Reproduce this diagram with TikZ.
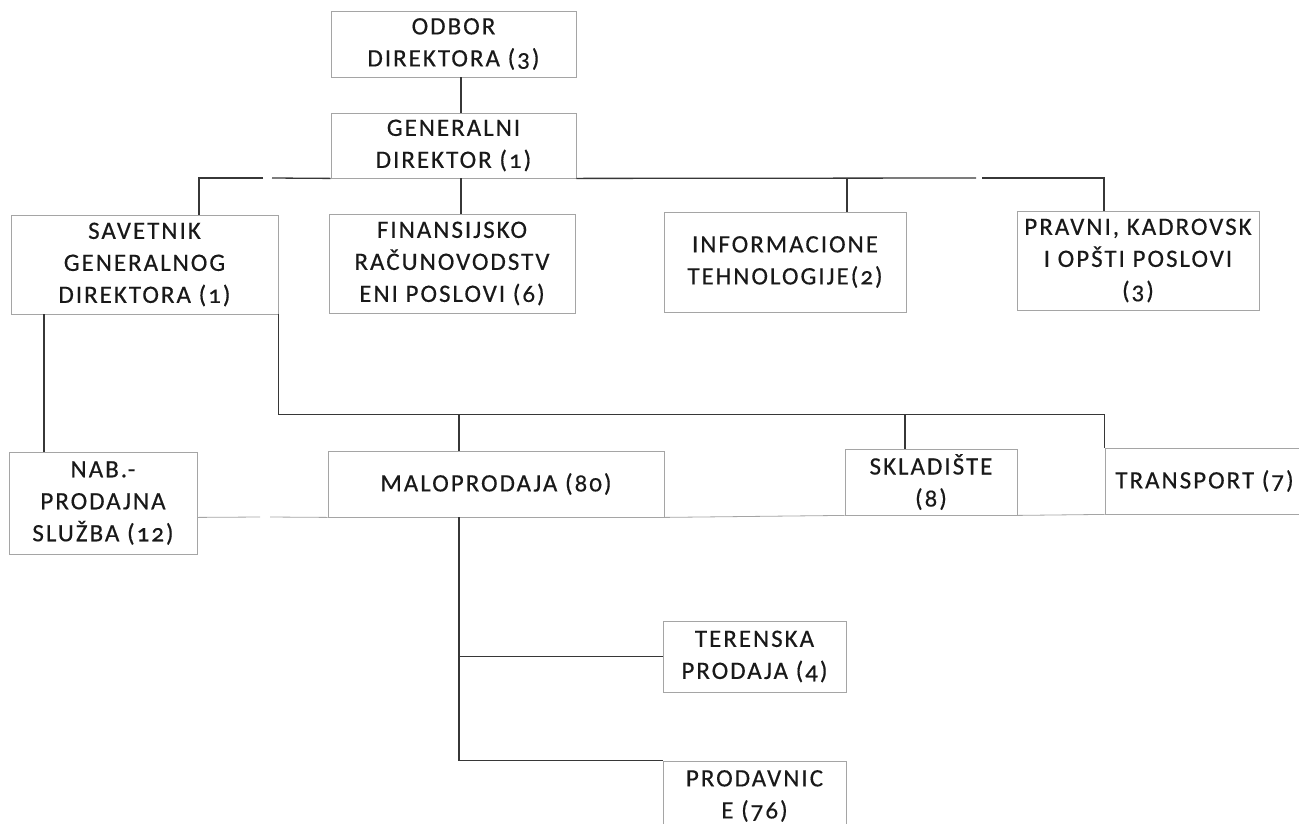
\documentclass[tikz,border=0pt]{standalone}
\usepackage{fontspec}
\setmainfont{Carlito}[Numbers=OldStyle, LetterSpace=8, FakeBold=0.4]
\usetikzlibrary{calc}
\definecolor{boxc}{RGB}{165,165,165}
\definecolor{linec}{RGB}{55,55,55}
\definecolor{txtc}{RGB}{25,25,25}
\begin{document}
\begin{tikzpicture}[x=1pt,y=-1pt,
  box/.style={draw=boxc, line width=0.8pt, inner sep=0pt, align=center, text=txtc,
    font=\fontsize{25}{32}\selectfont},
  conn/.style={draw=linec, line width=1.3pt},
  thinline/.style={draw=boxc, line width=0.8pt}]
\fill[white] (0,0) rectangle (1299,823);
\useasboundingbox (0,0) rectangle (1299,823);

% boxes
\node[box, minimum width=245pt, minimum height=66pt] (odbor) at (453.5,44) {ODBOR\\DIREKTORA (3)};
\node[box, minimum width=245pt, minimum height=65pt] (gen) at (453.5,145.5) {GENERALNI\\DIREKTOR (1)};
\node[box, minimum width=267pt, minimum height=99pt] (sav) at (144.5,264.5) {SAVETNIK\\GENERALNOG\\DIREKTORA (1)};
\node[box, minimum width=246pt, minimum height=99pt] (fin) at (452,263.5) {FINANSIJSKO\\RAČUNOVODSTV\\ENI POSLOVI (6)};
\node[box, minimum width=242pt, minimum height=100pt] (info) at (785,262) {INFORMACIONE\\TEHNOLOGIJE(2)};
\node[box, minimum width=242pt, minimum height=99pt] (prav) at (1138,260.5) {PRAVNI, KADROVSK\\I OPŠTI POSLOVI\\(3)};
\node[box, minimum width=188pt, minimum height=102pt] (nab) at (103,503) {NAB.-\\PRODAJNA\\SLUŽBA (12)};
\node[box, minimum width=336pt, minimum height=66pt] (malo) at (496,484) {MALOPRODAJA (80)};
\node[box, minimum width=172pt, minimum height=66pt] (skl) at (931,482) {SKLADIŠTE\\(8)};
\node[box, minimum width=199pt, minimum height=66pt] (trans) at (1204.5,481) {TRANSPORT (7)};
\node[box, minimum width=183pt, minimum height=71pt] (ter) at (754.5,656.5) {TERENSKA\\PRODAJA (4)};
\node[box, minimum width=183pt, minimum height=70pt] (prod) at (754.5,796) {PRODAVNIC\\E (76)};

% top level
\draw[conn] ([xshift=7.5pt]odbor.south) -- ([xshift=7.5pt]gen.north);
\coordinate (gapLa) at (272,178);
\coordinate (gapLb) at (263,178);
\coordinate (gapRa) at (976,178);
\coordinate (gapRb) at (982,178);
\draw[conn] (gen.south west) -- (gapLa);
\draw[conn] (gapLb) -| ([xshift=54.5pt]sav.north);
\draw[conn] (gen.south east) -- (gapRa);
\draw[conn] (gapRb) -| ([xshift=-34pt]prav.north);
\draw[conn] ([xshift=9pt]fin.north) -- ([xshift=9pt]fin.north |- gen.south);
\draw[conn] ([xshift=62pt]info.north) -- ([xshift=62pt]info.north |- gen.south);

% second level
\draw[conn] ([xshift=-100.5pt]sav.south) -- ([xshift=-59pt]nab.north);
\draw[conn] (sav.south east) -- ++(0,100) -| (trans.north west);
\draw[conn] ([xshift=-37pt]malo.north) -- ++(0,-37);
\draw[conn] ([xshift=-26pt]skl.north) -- ++(0,-35);

% bottom grey line
\coordinate (gapBa) at (260,517);
\coordinate (gapBb) at (270,517);
\draw[thinline] (nab.east |- malo.south) -- (gapBa);
\draw[thinline] (gapBb) -- (malo.south west);
\draw[thinline] (malo.south east) -- (skl.south west);
\draw[thinline] (skl.south east) -- (trans.south west);

% third level
\coordinate (mdrop) at ([xshift=-37pt]malo.south);
\draw[conn] (mdrop) -- (mdrop |- prod.north) -- (prod.north west);
\draw[conn] (ter.west -| mdrop) -- (ter.west);
\end{tikzpicture}
\end{document}
